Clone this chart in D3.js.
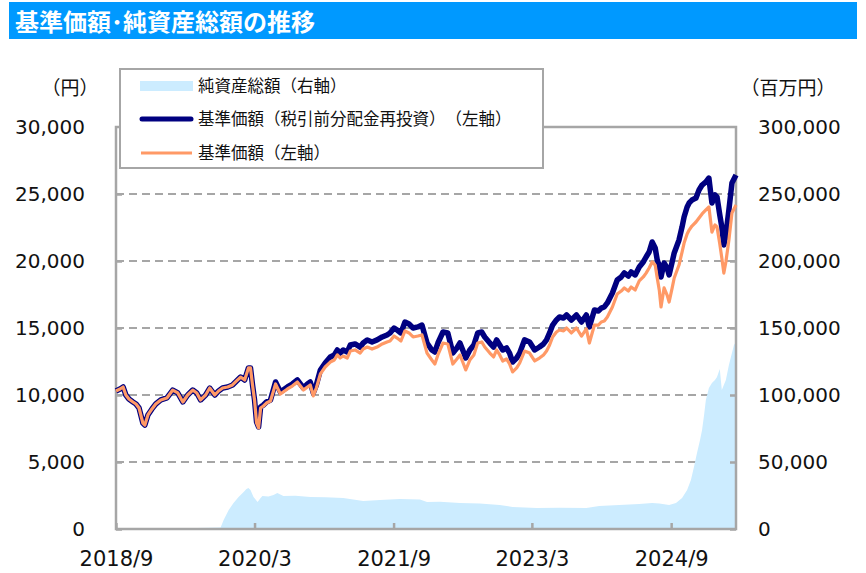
<!DOCTYPE html>
<html><head><meta charset="utf-8">
<script src="https://cdn.jsdelivr.net/npm/d3@7"></script>
<style>body{margin:0;background:#fff} text{text-spacing-trim:space-all}</style>
</head><body>
<svg id="c" width="866" height="573"></svg>
<script>
const title = "基準価額･純資産総額の推移";
const legendLabels = ["純資産総額（右軸）", "基準価額（税引前分配金再投資）（左軸）", "基準価額（左軸）"];
const xTickDates = ["2018-09-01", "2020-03-01", "2021-09-01", "2023-03-01", "2024-09-01"];
const xTickLabels = ["2018/9", "2020/3", "2021/9", "2023/3", "2024/9"];
const leftTicks = [0, 5000, 10000, 15000, 20000, 25000, 30000];
const rightTicks = [0, 50000, 100000, 150000, 200000, 250000, 300000];

const priceDates = ["2018-09-01","2018-09-17","2018-09-29","2018-10-10","2018-10-22","2018-11-07","2018-11-19","2018-12-01","2018-12-16","2018-12-24",
"2019-01-05","2019-01-21","2019-02-05","2019-02-25","2019-03-21","2019-04-13","2019-05-03","2019-05-23","2019-06-11","2019-07-01",
"2019-07-17","2019-08-01","2019-08-21","2019-09-06","2019-09-26","2019-10-11","2019-10-27","2019-11-16","2019-12-05","2019-12-21",
"2020-01-06","2020-01-22","2020-02-06","2020-02-14","2020-02-22","2020-03-01","2020-03-09","2020-03-17","2020-03-25","2020-04-05",
"2020-04-17","2020-05-03","2020-05-23","2020-06-11","2020-07-09","2020-07-28","2020-08-17","2020-09-10","2020-09-26","2020-10-07",
"2020-10-19","2020-10-31","2020-11-16","2020-12-05","2020-12-25","2021-01-10","2021-01-22","2021-02-02","2021-02-14","2021-03-02",
"2021-03-14","2021-04-02","2021-04-22","2021-05-04","2021-05-20","2021-06-08","2021-06-28","2021-07-18","2021-08-06","2021-08-18",
"2021-09-03","2021-09-15","2021-09-30","2021-10-16","2021-11-01","2021-11-17","2021-12-06","2021-12-22","2022-01-11","2022-01-30",
"2022-02-11","2022-02-23","2022-03-15","2022-04-03","2022-04-23","2022-05-09","2022-05-21","2022-06-01","2022-06-13","2022-06-29",
"2022-07-15","2022-07-30","2022-08-15","2022-08-27","2022-09-16","2022-10-01","2022-10-13","2022-10-25","2022-11-06","2022-11-21",
"2022-12-03","2022-12-15","2022-12-31","2023-01-12","2023-01-31","2023-02-20","2023-03-12","2023-03-31","2023-04-16","2023-04-28",
"2023-05-10","2023-05-22","2023-06-06","2023-06-18","2023-07-04","2023-07-16","2023-08-04","2023-08-24","2023-09-13","2023-10-02",
"2023-10-14","2023-11-03","2023-11-19","2023-11-30","2023-12-12","2023-12-24","2024-01-13","2024-02-01","2024-02-17","2024-02-29",
"2024-03-16","2024-03-27","2024-04-12","2024-04-28","2024-05-14","2024-05-25","2024-06-06","2024-06-18","2024-06-30","2024-07-08",
"2024-07-16","2024-07-23","2024-08-04","2024-08-16","2024-08-24","2024-09-05","2024-09-13","2024-10-02","2024-10-14","2024-10-22",
"2024-11-03","2024-11-11","2024-11-22","2024-12-08","2024-12-20","2025-01-01","2025-01-16","2025-01-28","2025-02-09","2025-02-21",
"2025-03-01","2025-03-12","2025-03-20","2025-03-28","2025-04-05","2025-04-17","2025-04-29","2025-05-15"];

// 基準価額（税引前分配金再投資）
const navReinvested = [10300,10450,10600,10000,9700,9480,9330,9030,7910,7760,
8510,8960,9330,9630,9780,10370,10150,9480,10000,10370,
10150,9630,10000,10520,10000,10300,10520,10600,10750,11050,
11340,11120,12020,12020,10750,9630,7990,7610,9100,9250,
9480,9630,10970,10220,10600,10820,11120,10520,10820,10970,
10150,10750,11870,12390,12840,12990,13360,13130,13360,13210,
13730,13810,13580,13880,14110,13960,14110,14330,14480,14630,
15000,14850,14630,15450,15300,15000,15080,15220,13880,13360,
13210,13880,14700,14630,13130,13510,13880,13360,12760,13360,
13730,14630,14700,14330,13880,13580,14110,13730,13360,13510,
13130,12460,12760,13130,14110,13960,13360,13580,13810,14110,
14630,15220,15600,15820,15750,15970,15600,15970,15450,15970,
15080,16340,16270,16490,16570,16870,17610,18580,18810,19110,
18880,19180,18960,19550,19930,20300,20670,21420,20970,20080,
19630,18810,19850,19480,18960,19930,20600,21570,22540,23280,
24030,24330,24550,24700,25300,25670,25900,26190,24330,24930,
24780,23430,22540,21190,21940,23810,25820,26420];

// 基準価額
const navPrice = [10300,10450,10600,10000,9700,9480,9330,9030,7910,7760,
8510,8960,9330,9630,9780,10370,10150,9480,10000,10370,
10150,9630,10000,10520,10000,10300,10520,10600,10750,11050,
11340,11120,12020,12020,10750,9630,7910,7540,9030,9180,
9400,9550,10820,10070,10450,10670,10970,10370,10600,10750,
9930,10520,11570,12090,12460,12610,12990,12760,12910,12760,
13280,13360,13130,13430,13580,13430,13580,13810,13960,14030,
14400,14250,14030,14780,14630,14330,14400,14480,13130,12610,
12310,12990,13880,13810,12310,12690,12990,12460,11870,12610,
12990,13880,13960,13580,13130,12840,13360,12990,12540,12690,
12310,11720,12020,12390,13280,13130,12540,12760,12990,13280,
13730,14330,14700,14850,14780,15000,14630,15000,14400,14930,
13880,15220,15220,15450,15520,15820,16570,17540,17760,17990,
17760,18060,17840,18510,18810,19100,19480,19930,19700,18730,
17840,16570,17990,17460,16940,17990,18730,19700,20670,21340,
22020,22310,22610,22910,23210,23510,23810,24030,22160,22690,
22540,21270,20220,19100,19930,21570,23580,24180];

const aumDates = ["2018-09-01","2019-06-01","2019-10-19","2019-10-31","2019-11-20","2019-12-09","2019-12-29","2020-01-18","2020-01-29","2020-02-06",
"2020-02-14","2020-02-26","2020-03-13","2020-03-25","2020-04-01","2020-04-25","2020-05-15","2020-05-30","2020-06-23","2020-08-09",
"2020-10-07","2020-12-05","2021-02-14","2021-05-04","2021-07-10","2021-09-26","2021-12-14","2022-01-11","2022-03-03","2022-05-21",
"2022-08-07","2022-10-25","2022-12-15","2023-03-20","2023-06-18","2023-10-02","2023-11-22","2024-02-09","2024-04-28","2024-06-18",
"2024-07-16","2024-08-24","2024-09-20","2024-10-14","2024-11-03","2024-11-18","2024-11-30","2024-12-12","2024-12-24","2025-01-01",
"2025-01-09","2025-01-16","2025-01-28","2025-02-09","2025-02-21","2025-03-01","2025-03-12","2025-03-20","2025-03-28","2025-04-05",
"2025-04-17","2025-04-25","2025-05-07","2025-05-15"];
// 純資産総額（百万円）
const aumValues = [300,600,1200,6700,14200,19400,23900,27600,29900,30600,
29100,23900,20100,23100,24600,24200,25400,26900,24600,24800,
23900,23700,23100,20900,21600,22400,22000,20100,20300,19400,
19000,17900,16400,15700,15900,15700,17200,17900,18700,19400,
19000,17900,19400,23100,29100,36600,46300,56700,66400,73900,
85100,96300,105200,109000,111200,113400,119400,103700,107500,111200,
122400,128400,137300,139600];

const parse = d3.timeParse("%Y-%m-%d");
const svg = d3.select("#c");
const GRAY = "#A6A6A6";
const L = 116, R = 736, T = 127, B = 529;
const CJK = "'Noto Sans CJK JP', sans-serif";

// title bar
svg.append("rect").attr("x", 9).attr("y", 2).attr("width", 848).attr("height", 37).attr("fill", "#0099FF");
svg.append("text").attr("x", 15).attr("y", 31).text(title)
  .attr("fill", "#fff").attr("font-size", 24).attr("font-weight", "bold").attr("font-family", CJK);

const x = d3.scaleTime().domain([parse("2018-09-01"), parse("2025-05-15")]).range([L, R]);
const yL = d3.scaleLinear().domain([0, 30000]).range([B, T]);
const yR = d3.scaleLinear().domain([0, 300000]).range([B, T]);

// gridlines
svg.append("g").selectAll("line").data(leftTicks.filter(v => v > 0 && v < 30000)).join("line")
  .attr("x1", L).attr("x2", R).attr("y1", d => yL(d)).attr("y2", d => yL(d))
  .attr("stroke", GRAY).attr("stroke-width", 2).attr("stroke-dasharray", "8,5");

// area
const area = d3.area().x((d, i) => x(parse(aumDates[i]))).y0(yR(0)).y1(d => yR(d));
svg.append("path").datum(aumValues).attr("d", area).attr("fill", "#CCECFF");

// axes
const axL = svg.append("g").attr("transform", `translate(${L},0)`)
  .call(d3.axisLeft(yL).tickValues(leftTicks).tickSize(-6).tickPadding(31).tickFormat(d3.format(",")));
const axR = svg.append("g").attr("transform", `translate(${R},0)`)
  .call(d3.axisRight(yR).tickValues(rightTicks).tickSize(-6).tickPadding(22).tickFormat(d3.format(",")));
const axB = svg.append("g").attr("transform", `translate(0,${B})`)
  .call(d3.axisBottom(x).tickValues(xTickDates.map(parse)).tickSize(-6).tickPadding(18)
    .tickFormat((d, i) => xTickLabels[i]));
[axL, axR, axB].forEach(g => {
  g.select(".domain").remove();
  g.selectAll("line").attr("stroke", GRAY).attr("stroke-width", 2.5);
  g.selectAll("text").attr("fill", "#111").attr("font-size", 20)
    .attr("font-family", "'DejaVu Sans', Verdana, sans-serif");
});
axB.selectAll("text").attr("dy", "0.9em").attr("font-size", 21);
axR.select(".tick:last-of-type line").remove();
axL.select(".tick:last-of-type line").remove();

// frame
svg.append("rect").attr("x", L).attr("y", T).attr("width", R - L).attr("height", B - T)
  .attr("fill", "none").attr("stroke", GRAY).attr("stroke-width", 2.5);

// lines
const line = d3.line().x((d, i) => x(parse(priceDates[i]))).y(d => yL(d));
svg.append("path").datum(navReinvested).attr("d", line).attr("fill", "none")
  .attr("stroke", "#000080").attr("stroke-width", 5.5).attr("stroke-linejoin", "round");
svg.append("path").datum(navPrice).attr("d", line).attr("fill", "none")
  .attr("stroke", "#FF9966").attr("stroke-width", 3.2).attr("stroke-linejoin", "round");

// unit labels
svg.append("text").attr("x", 70).attr("y", 95).attr("text-anchor", "middle").text("（円）")
  .attr("font-size", 19).attr("fill", "#111").attr("font-family", CJK);
svg.append("text").attr("x", 788).attr("y", 95).attr("text-anchor", "middle").text("（百万円）")
  .attr("font-size", 19).attr("fill", "#111").attr("font-family", CJK);

// legend
const lg = svg.append("g");
lg.append("rect").attr("x", 120).attr("y", 69).attr("width", 423).attr("height", 99)
  .attr("fill", "#fff").attr("stroke", GRAY).attr("stroke-width", 2);
lg.append("rect").attr("x", 140).attr("y", 81).attr("width", 53).attr("height", 10).attr("fill", "#CCECFF");
lg.append("line").attr("x1", 142).attr("x2", 191).attr("y1", 119).attr("y2", 119)
  .attr("stroke", "#000080").attr("stroke-width", 5).attr("stroke-linecap", "round");
lg.append("line").attr("x1", 141).attr("x2", 192).attr("y1", 153).attr("y2", 153)
  .attr("stroke", "#FF9966").attr("stroke-width", 3);
lg.selectAll("text.lg").data(legendLabels).join("text")
  .attr("x", 198).attr("y", (d, i) => [86, 119, 153][i]).attr("dy", "0.35em").text(d => d)
  .attr("font-size", 16.5).attr("fill", "#111").attr("font-family", CJK);
</script>
</body></html>
